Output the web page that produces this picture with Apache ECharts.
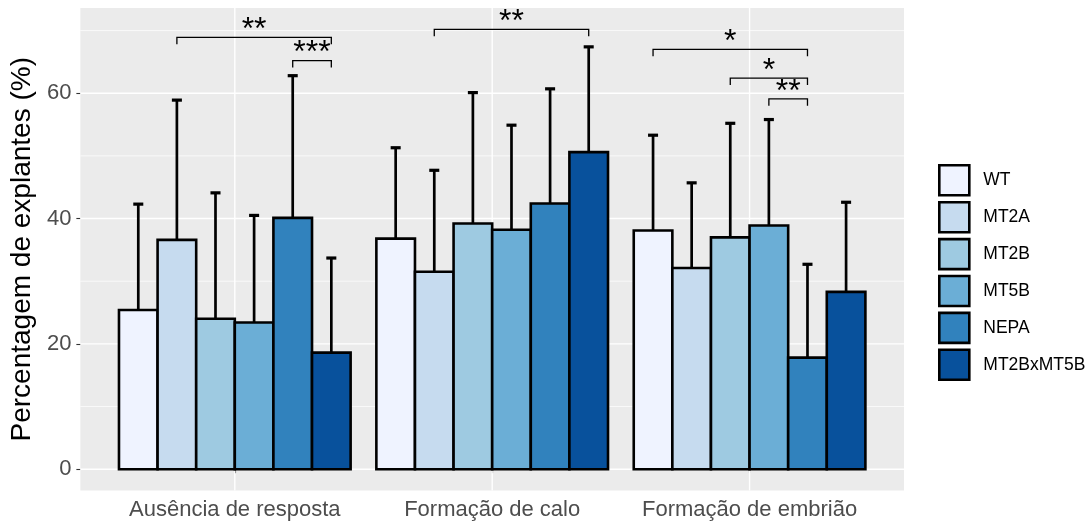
<!DOCTYPE html>
<html><head><meta charset="utf-8">
<script src="https://cdn.jsdelivr.net/npm/echarts@6/dist/echarts.min.js"></script>
<style>html,body{margin:0;padding:0;background:#fff}#c{width:1086px;height:522px}</style>
</head><body><div id="c"></div>
<script>
const categories = ['Ausência de resposta', 'Formação de calo', 'Formação de embrião'];
const genotypes = ['WT', 'MT2A', 'MT2B', 'MT5B', 'NEPA', 'MT2BxMT5B'];
const colors = ['#EFF3FF', '#C6DBEF', '#9ECAE1', '#6BAED6', '#3182BD', '#08519C'];

const meanWT        = [25.4, 36.8, 38.1];
const meanMT2A      = [36.6, 31.5, 32.1];
const meanMT2B      = [24.0, 39.2, 37.0];
const meanMT5B      = [23.4, 38.2, 38.9];
const meanNEPA      = [40.1, 42.4, 17.8];
const meanMT2BxMT5B = [18.6, 50.6, 28.3];

const upperWT        = [42.3, 51.3, 53.3];
const upperMT2A      = [58.9, 47.7, 45.7];
const upperMT2B      = [44.1, 60.1, 55.2];
const upperMT5B      = [40.5, 54.9, 55.8];
const upperNEPA      = [62.8, 60.7, 32.7];
const upperMT2BxMT5B = [33.7, 67.4, 42.6];

const yTicks = [0, 20, 40, 60];
const yMinorTicks = [10, 30, 50, 70];
const xTicks = [1, 2, 3];

// significance comparisons
const compCategory = [0, 0, 1, 2, 2, 2];
const compFrom  = ['MT2A', 'NEPA', 'MT2A', 'WT', 'MT2B', 'MT5B'];
const compTo    = ['MT2BxMT5B', 'MT2BxMT5B', 'MT2BxMT5B', 'NEPA', 'NEPA', 'NEPA'];
const compY     = [68.9, 65.2, 70.2, 67.0, 62.4, 59.1];
const compLabel = ['**', '***', '**', '*', '*', '**'];

const means = [meanWT, meanMT2A, meanMT2B, meanMT5B, meanNEPA, meanMT2BxMT5B];
const uppers = [upperWT, upperMT2A, upperMT2B, upperMT5B, upperNEPA, upperMT2BxMT5B];

const FONT = '"Liberation Sans", Arial, Helvetica, sans-serif';
const nG = genotypes.length;
const dodgeWidth = 0.9;
const barW = dodgeWidth / nG;
function xPos(catPos, g) { return catPos + (g - (nG - 1) / 2) * barW; }

const chart = echarts.init(document.getElementById('c'), null, {renderer: 'canvas'});

const series = [];

// panel gridlines
const gridData = [];
yMinorTicks.forEach(v => gridData.push([0, v, 0]));
yTicks.forEach(v => gridData.push([0, v, 1]));
xTicks.forEach(v => gridData.push([1, v, 1]));
series.push({
  type: 'custom', name: '_grid', z: 1, silent: true, clip: false,
  data: gridData,
  encode: {x: 1, y: 1},
  renderItem: function (params, api) {
    const cs = params.coordSys;
    const orient = api.value(0), v = api.value(1), major = api.value(2);
    const w = major ? 1.4 : 0.7;
    if (orient === 0) {
      const y = api.coord([1, v])[1];
      return {type: 'line', shape: {x1: cs.x, y1: y, x2: cs.x + cs.width, y2: y},
        style: {stroke: '#FFFFFF', lineWidth: w}};
    }
    const x = api.coord([v, 0])[0];
    return {type: 'line', shape: {x1: x, y1: cs.y, x2: x, y2: cs.y + cs.height},
      style: {stroke: '#FFFFFF', lineWidth: w}};
  }
});

genotypes.forEach((g, k) => {
  series.push({
    type: 'custom', name: g, z: 2, clip: false,
    itemStyle: {color: colors[k], borderColor: '#000', borderWidth: 2.6},
    data: categories.map((c, i) => [i + 1, means[k][i], uppers[k][i]]),
    encode: {x: 0, y: [1, 2]},
    renderItem: function (params, api) {
      const cp = api.value(0), m = api.value(1), u = api.value(2);
      const xc = xPos(cp, k);
      const p0 = api.coord([xc - barW / 2, 0]);
      const p1 = api.coord([xc + barW / 2, m]);
      const pm = api.coord([xc, m]);
      const pu = api.coord([xc, u]);
      const capHalf = api.size([barW * 0.13, 0])[0];
      return {type: 'group', children: [
        {type: 'line', shape: {x1: pm[0], y1: pm[1], x2: pu[0], y2: pu[1]},
          style: {stroke: '#000', lineWidth: 2.7}},
        {type: 'line', shape: {x1: pu[0] - capHalf, y1: pu[1], x2: pu[0] + capHalf, y2: pu[1]},
          style: {stroke: '#000', lineWidth: 3.2}},
        {type: 'rect', shape: {x: p0[0], y: p1[1], width: p1[0] - p0[0], height: p0[1] - p1[1]},
          style: {fill: colors[k], stroke: '#000', lineWidth: 2.6}}
      ]};
    }
  });
});

// significance brackets
series.push({
  type: 'custom', name: '_sig', z: 3, silent: true, clip: false,
  data: compCategory.map((c, i) => [
    xPos(c + 1, genotypes.indexOf(compFrom[i])),
    xPos(c + 1, genotypes.indexOf(compTo[i])),
    compY[i]
  ]),
  encode: {x: [0, 1], y: 2},
  renderItem: function (params, api) {
    const x1 = api.value(0), x2 = api.value(1), y = api.value(2);
    const a = api.coord([x1, y]), b = api.coord([x2, y]);
    const tip = api.size([0, 1.1])[1];
    return {type: 'group', children: [
      {type: 'polyline', shape: {points: [[a[0], a[1] + tip], [a[0], a[1]], [b[0], b[1]], [b[0], b[1] + tip]]},
        style: {stroke: '#000', lineWidth: 1.3, fill: null}},
      {type: 'text', style: {x: (a[0] + b[0]) / 2, y: a[1] - 7, text: compLabel[params.dataIndex],
        font: '32px ' + FONT, fill: '#000', align: 'center', verticalAlign: 'middle'}}
    ]};
  }
});

chart.setOption({
  animation: false,
  backgroundColor: '#FFFFFF',
  textStyle: {fontFamily: FONT},
  grid: {left: 79, right: 182, top: 8, bottom: 31.5, show: true, backgroundColor: '#EBEBEB', borderWidth: 0},
  legend: {
    orient: 'vertical', left: 938, top: 164, padding: 0,
    itemWidth: 30, itemHeight: 30, itemGap: 4.3, icon: 'rect',
    selectedMode: false,
    textStyle: {fontFamily: FONT, fontSize: 17.5, color: '#000', padding: [0, 0, 0, 9]},
    data: genotypes.map((g, i) => ({name: g, icon: 'rect',
      itemStyle: {color: colors[i], borderColor: '#000', borderWidth: 2.6}}))
  },
  xAxis: {
    type: 'value', min: 0.4, max: 3.6,
    axisLine: {show: false}, splitLine: {show: false},
    axisTick: {show: true, customValues: xTicks, length: 4, lineStyle: {color: '#333333', width: 1.1}},
    axisLabel: {customValues: xTicks, formatter: v => categories[Math.round(v) - 1],
      fontSize: 22, color: '#4D4D4D', margin: 8, fontFamily: FONT}
  },
  yAxis: {
    type: 'value', min: -3.4, max: 73.6,
    axisLine: {show: false}, splitLine: {show: false},
    axisTick: {show: true, customValues: yTicks, length: 4, lineStyle: {color: '#333333', width: 1.1}},
    axisLabel: {customValues: yTicks, fontSize: 22, color: '#4D4D4D', margin: 9, fontFamily: FONT},
    name: 'Percentagem de explantes (%)', nameLocation: 'middle', nameGap: 42,
    nameTextStyle: {fontSize: 28, color: '#000', fontFamily: FONT}
  },
  series: series
});
</script>
</body></html>
